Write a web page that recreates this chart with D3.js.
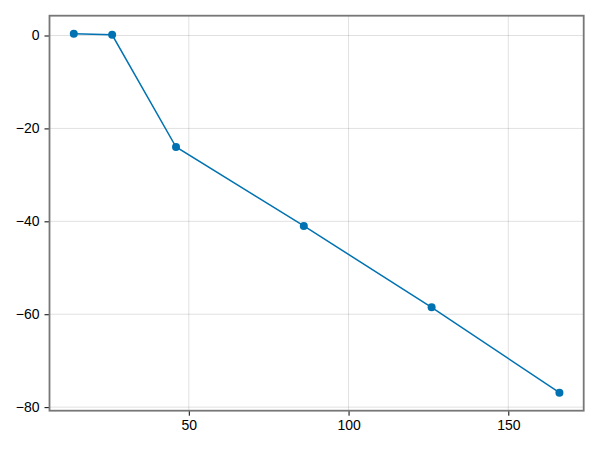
<!DOCTYPE html>
<html><head><meta charset="utf-8">
<script src="https://cdn.jsdelivr.net/npm/d3@7"></script>
<style>body{margin:0;background:#fff;}</style>
</head><body>
<svg id="c" width="600" height="450"></svg>
<script>
const xValues = [14, 26, 46, 86, 126, 166];
const yValues = [0.4, 0.15, -24.0, -41.0, -58.5, -76.9];
const xTicks = [50, 100, 150];
const yTicks = [0, -20, -40, -60, -80];

const svg = d3.select("#c");
const L = 49.5, R = 583.7, T = 15.7, B = 410.7;
const xr = d3.extent(xValues), yr = d3.extent(yValues);
const xp = (xr[1]-xr[0])*0.05, yp = (yr[1]-yr[0])*0.05;
const x = d3.scaleLinear().domain([xr[0]-xp, xr[1]+xp]).range([L, R]);
const y = d3.scaleLinear().domain([yr[0]-yp, yr[1]+yp]).range([B, T]);

const fmt = d => (d < 0 ? "\u2212" + Math.abs(d) : String(d));

// grid
svg.append("g").selectAll("line").data(xTicks).join("line")
  .attr("x1", d => x(d)).attr("x2", d => x(d)).attr("y1", T).attr("y2", B)
  .attr("stroke", "#000").attr("stroke-opacity", 0.12).attr("stroke-width", 1);
svg.append("g").selectAll("line").data(yTicks).join("line")
  .attr("y1", d => y(d)).attr("y2", d => y(d)).attr("x1", L).attr("x2", R)
  .attr("stroke", "#000").attr("stroke-opacity", 0.12).attr("stroke-width", 1);

// axes
const xAxis = d3.axisBottom(x).tickValues(xTicks).tickFormat(fmt).tickSizeInner(5).tickSizeOuter(0).tickPadding(4);
const yAxis = d3.axisLeft(y).tickValues(yTicks).tickFormat(fmt).tickSizeInner(5).tickSizeOuter(0).tickPadding(5);
const gx = svg.append("g").attr("transform", `translate(0,${B})`).call(xAxis);
const gy = svg.append("g").attr("transform", `translate(${L},0)`).call(yAxis);
[gx, gy].forEach(g => {
  g.attr("font-family", "'Liberation Sans', Arial, Helvetica, sans-serif").attr("font-size", 14);
  g.select(".domain").remove();
  g.selectAll(".tick line").attr("stroke", "#000").attr("stroke-width", 1);
  g.selectAll(".tick text").attr("fill", "#000");
});

// frame
svg.append("rect").attr("x", L).attr("y", T).attr("width", R-L).attr("height", B-T)
  .attr("fill", "none").attr("stroke", "#777").attr("stroke-width", 1.8);

// line + points
svg.append("path").datum(xValues.map((v,i)=>[v, yValues[i]]))
  .attr("d", d3.line().x(d => x(d[0])).y(d => y(d[1])))
  .attr("fill", "none").attr("stroke", "#0072B2").attr("stroke-width", 1.5);
svg.append("g").selectAll("circle").data(xValues).join("circle")
  .attr("cx", d => x(d)).attr("cy", (d,i) => y(yValues[i])).attr("r", 4)
  .attr("fill", "#0072B2");
</script>
</body></html>
